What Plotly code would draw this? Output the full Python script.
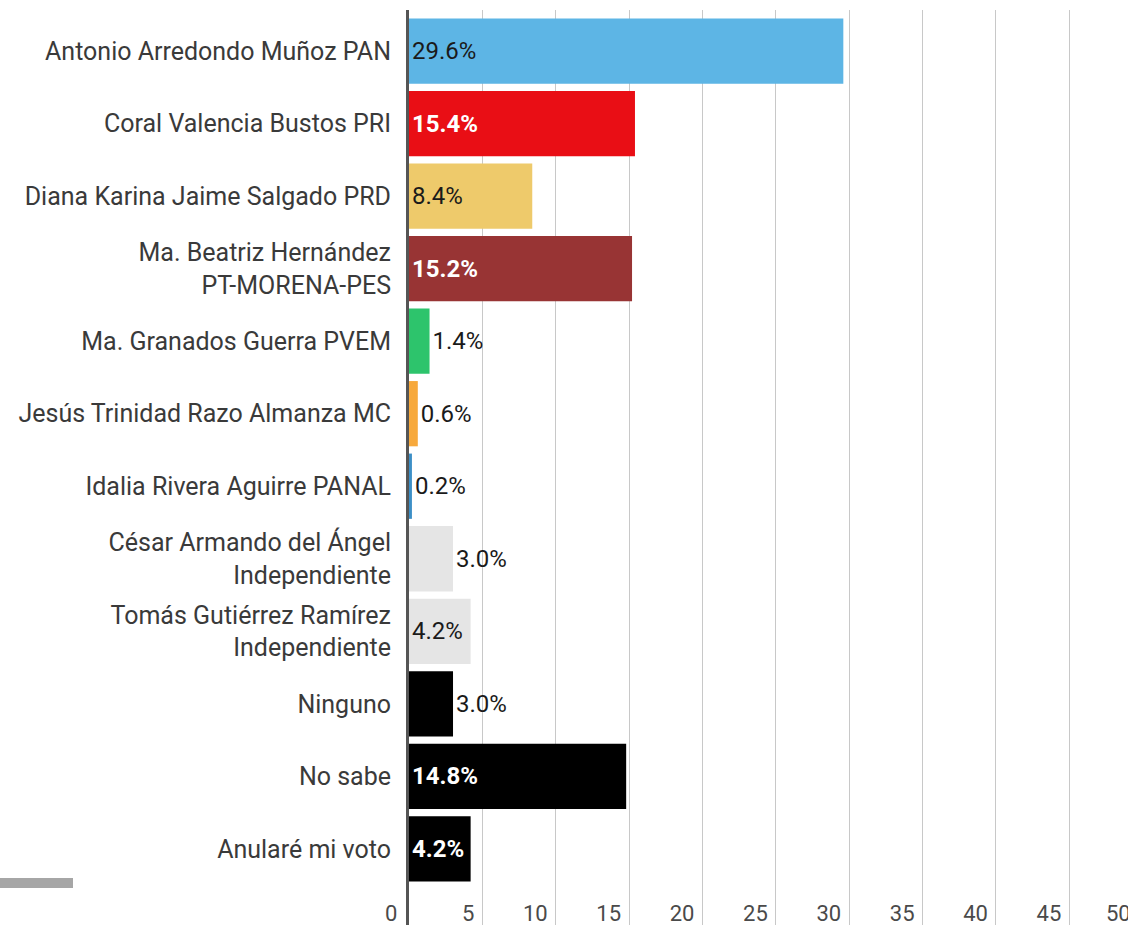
import plotly.graph_objects as go

# candidates / options, top to bottom
candidates = [
    "Antonio Arredondo Muñoz PAN",
    "Coral Valencia Bustos PRI",
    "Diana Karina Jaime Salgado PRD",
    "Ma. Beatriz Hernández<br>PT-MORENA-PES",
    "Ma. Granados Guerra PVEM",
    "Jesús Trinidad Razo Almanza MC",
    "Idalia Rivera Aguirre PANAL",
    "César Armando del Ángel<br>Independiente",
    "Tomás Gutiérrez Ramírez<br>Independiente",
    "Ninguno",
    "No sabe",
    "Anularé mi voto",
]
percent = [29.6, 15.4, 8.4, 15.2, 1.4, 0.6, 0.2, 3.0, 4.2, 3.0, 14.8, 4.2]
bar_colors = ["#5DB5E5", "#E90E15", "#EECA6B", "#983434", "#2DC46C", "#F7A93C",
              "#3C8FC6", "#E5E5E5", "#E5E5E5", "#000000", "#000000", "#000000"]
label_colors = ["#1a1a1a", "#ffffff", "#1a1a1a", "#ffffff", "#1a1a1a", "#1a1a1a",
                "#1a1a1a", "#1a1a1a", "#1a1a1a", "#1a1a1a", "#ffffff", "#ffffff"]
label_pos = ["inside", "inside", "inside", "inside", "outside", "outside",
             "outside", "outside", "inside", "outside", "inside", "inside"]
x_ticks = [5, 10, 15, 20, 25, 30, 35, 40, 45]
x_edge_ticks = [0, 50]

texts = []
for v, c in zip(percent, label_colors):
    s = f"{v:.1f}%"
    texts.append(f"<b>{s}</b>" if c == "#ffffff" else s)

fig = go.Figure()
fig.add_trace(go.Bar(
    x=percent, y=list(range(len(candidates))), orientation="h",
    marker=dict(color=bar_colors, line=dict(width=0)),
    text=texts, textposition=label_pos, insidetextanchor="start",
    textfont=dict(family="Roboto", size=24, color=label_colors),
    constraintext="none", cliponaxis=False,
))

W, H = 1128, 925
L, T = 409, 10
XMAX = 49
fig.update_layout(
    width=W, height=H,
    margin=dict(l=L, r=0, t=T, b=0),
    plot_bgcolor="white", paper_bgcolor="white",
    bargap=0.1, showlegend=False,
    font=dict(family="Roboto", color="#3a3a3a", size=25),
    xaxis=dict(range=[0, XMAX], tickvals=x_ticks, ticktext=[str(t) for t in x_ticks],
               showgrid=True, gridcolor="#C8C8C8", gridwidth=1, zeroline=False,
               ticklabelposition="inside left", tickfont=dict(size=22, color="#4a4a4a"),
               ticklabelstandoff=-6, ticklabelshift=-8, showline=False),
    yaxis=dict(tickvals=list(range(len(candidates))), ticktext=candidates,
               range=[12.05, -0.566], showgrid=False, zeroline=False,
               showline=True, linecolor="#555555", linewidth=3,
               ticklabelstandoff=10,
               tickfont=dict(size=25, color="#3a3a3a")),
)

# 0 and 50 ticks sit outside the visible plot area
for t in x_edge_ticks:
    fig.add_annotation(x=t / XMAX, xref="paper", y=0, yref="paper", yanchor="bottom",
                       xanchor="right", xshift=-10, yshift=-3, text=str(t), showarrow=False,
                       font=dict(size=22, color="#4a4a4a"))

# grey bar at bottom left
fig.add_shape(type="rect", xref="paper", yref="paper",
              x0=(0 - L) / (W - L), x1=(73 - L) / (W - L),
              y0=(H - 888) / (H - T), y1=(H - 878) / (H - T),
              fillcolor="#A6A6A6", line=dict(width=0))

fig.write_html("out.html", config={"displayModeBar": False},
               post_script="document.body.style.margin='0';")
